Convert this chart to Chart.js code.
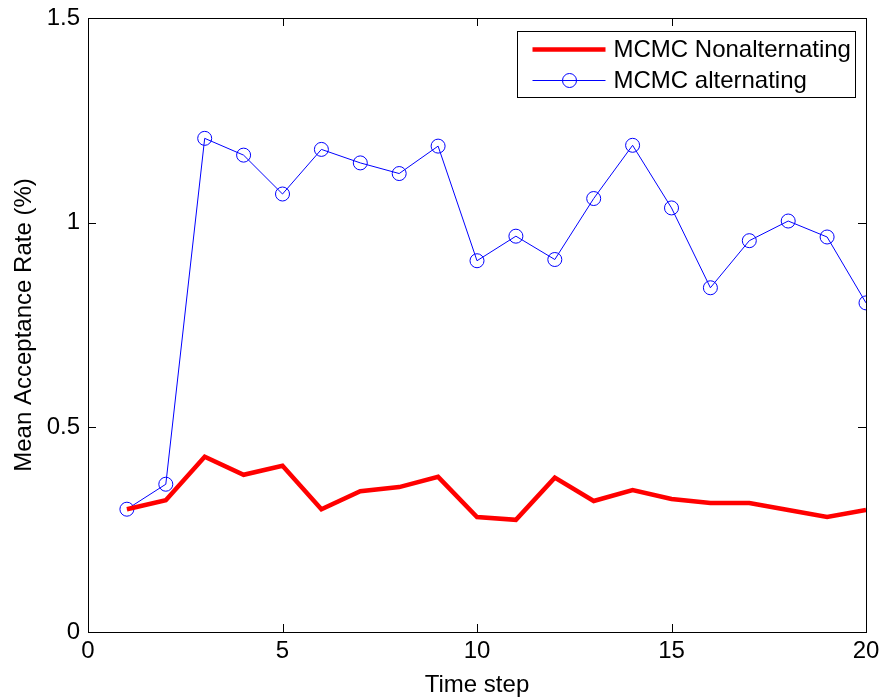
<!DOCTYPE html>
<html>
<head>
<meta charset="utf-8">
<script src="https://cdn.jsdelivr.net/npm/chart.js@4/dist/chart.umd.min.js"></script>
<style>
  body { margin: 0; background: #fff; }
</style>
</head>
<body>
<canvas id="chart" width="886" height="700"></canvas>
<script>
const timeSteps = [1, 2, 3, 4, 5, 6, 7, 8, 9, 10, 11, 12, 13, 14, 15, 16, 17, 18, 19, 20];
const nonAlternating = [0.300, 0.322, 0.428, 0.384, 0.406, 0.300, 0.344, 0.354, 0.379, 0.281,
                        0.274, 0.377, 0.320, 0.347, 0.325, 0.315, 0.315, 0.298, 0.281, 0.298];
const alternating = [0.300, 0.361, 1.206, 1.165, 1.070, 1.179, 1.146, 1.120, 1.187, 0.907,
                     0.967, 0.910, 1.059, 1.189, 1.036, 0.841, 0.956, 1.004, 0.965, 0.804];
const xTicks = [0, 5, 10, 15, 20];
const yTicks = [0, 0.5, 1, 1.5];

const FONT = 'Liberation Sans, Arial, Helvetica, sans-serif';
const FONT_SIZE = 24;

function toPoints(ys) {
  return ys.map((y, i) => ({ x: timeSteps[i], y: y }));
}

// matlab style box with inward ticks on all four sides
const framePlugin = {
  id: 'frame',
  afterDraw(chart) {
    const ctx = chart.ctx;
    const a = chart.chartArea;
    const xs = chart.scales.x;
    const ys = chart.scales.y;
    const tl = 8;
    ctx.save();
    ctx.strokeStyle = '#000';
    ctx.lineWidth = 1;
    ctx.beginPath();
    for (let i = 0; i < xTicks.length; i++) {
      const px = Math.round(xs.getPixelForValue(xTicks[i])) + 0.5;
      ctx.moveTo(px, a.bottom); ctx.lineTo(px, a.bottom - tl);
      ctx.moveTo(px, a.top); ctx.lineTo(px, a.top + tl);
    }
    for (let i = 0; i < yTicks.length; i++) {
      const py = Math.round(ys.getPixelForValue(yTicks[i])) + 0.5;
      ctx.moveTo(a.left, py); ctx.lineTo(a.left + tl, py);
      ctx.moveTo(a.right, py); ctx.lineTo(a.right - tl, py);
    }
    ctx.stroke();
    ctx.strokeRect(Math.round(a.left) + 0.5, Math.round(a.top) + 0.5,
                   Math.round(a.right - a.left), Math.round(a.bottom - a.top));

    // legend
    const w = 338, h = 66;
    const lx = Math.round(a.right - 11 - w) + 0.5;
    const ly = Math.round(a.top + 13) + 0.5;
    ctx.fillStyle = '#fff';
    ctx.fillRect(lx, ly, w, h);
    ctx.strokeRect(lx, ly, w, h);
    ctx.font = FONT_SIZE + 'px ' + FONT;
    ctx.textBaseline = 'middle';
    ctx.textAlign = 'left';
    chart.data.datasets.forEach((ds, i) => {
      const cy = ly + 18 + i * 31;
      ctx.strokeStyle = ds.borderColor;
      ctx.lineWidth = ds.borderWidth;
      ctx.beginPath();
      ctx.moveTo(lx + 15, cy);
      ctx.lineTo(lx + 88, cy);
      ctx.stroke();
      if (ds.pointRadius > 0) {
        ctx.beginPath();
        ctx.arc(lx + 52, cy, ds.pointRadius, 0, Math.PI * 2);
        ctx.stroke();
      }
      ctx.fillStyle = '#000';
      ctx.fillText(ds.label, lx + 96, cy + 1);
    });
    ctx.restore();
  }
};

new Chart(document.getElementById('chart'), {
  type: 'line',
  data: {
    datasets: [
      {
        label: 'MCMC Nonalternating',
        data: toPoints(nonAlternating),
        borderColor: '#ff0000',
        borderWidth: 4.5,
        pointRadius: 0,
        fill: false,
        tension: 0
      },
      {
        label: 'MCMC alternating',
        data: toPoints(alternating),
        borderColor: '#0000ff',
        backgroundColor: 'rgba(0,0,0,0)',
        borderWidth: 1,
        pointRadius: 7,
        pointBorderWidth: 1,
        pointBorderColor: '#0000ff',
        pointBackgroundColor: 'rgba(0,0,0,0)',
        fill: false,
        tension: 0
      }
    ]
  },
  options: {
    responsive: false,
    animation: false,
    layout: { padding: { top: 18, right: 20, left: 0, bottom: 0 } },
    plugins: {
      legend: { display: false },
      tooltip: { enabled: false }
    },
    scales: {
      x: {
        type: 'linear',
        min: 0,
        max: 20,
        grid: { display: false, drawTicks: false },
        border: { display: false },
        afterBuildTicks: s => { s.ticks = xTicks.map(v => ({ value: v })); },
        afterFit: s => { s.height = 68; s.paddingLeft = 0; s.paddingRight = 0; },
        ticks: {
          color: '#000',
          padding: 5,
          maxRotation: 0,
          callback: v => String(v),
          font: { family: FONT, size: FONT_SIZE }
        },
        title: {
          display: true,
          text: 'Time step',
          color: '#000',
          padding: { top: 0, bottom: 0 },
          font: { family: FONT, size: FONT_SIZE }
        }
      },
      y: {
        type: 'linear',
        min: 0,
        max: 1.5,
        grid: { display: false, drawTicks: false },
        border: { display: false },
        afterBuildTicks: s => { s.ticks = yTicks.map(v => ({ value: v })); },
        afterFit: s => { s.width = 88; s.paddingTop = 0; s.paddingBottom = 0; },
        ticks: {
          color: '#000',
          padding: 8,
          callback: v => String(v),
          font: { family: FONT, size: FONT_SIZE }
        },
        title: {
          display: true,
          text: 'Mean Acceptance Rate (%)',
          color: '#000',
          padding: { top: 10, bottom: 0 },
          font: { family: FONT, size: FONT_SIZE }
        }
      }
    }
  },
  plugins: [framePlugin]
});
</script>
</body>
</html>
